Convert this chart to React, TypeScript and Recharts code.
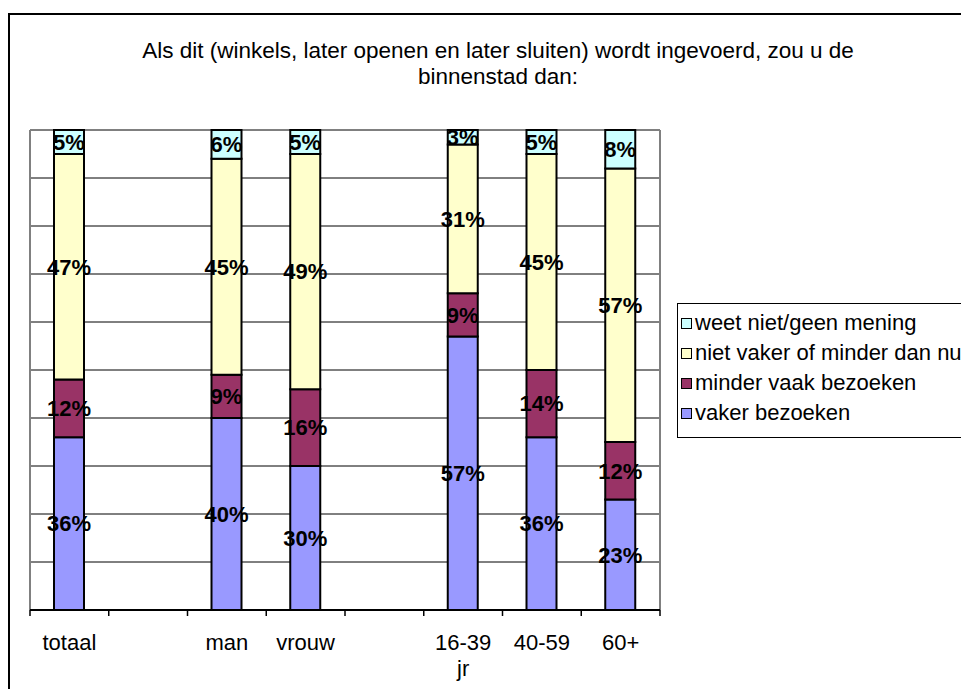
import {
  BarChart,
  Bar,
  XAxis,
  YAxis,
  CartesianGrid,
  Legend,
  LabelList,
} from "recharts";

const categories = ["totaal", "", "man", "vrouw", "", "16-39\njr", "40-59", "60+"];
const vaker = [36, null, 40, 30, null, 57, 36, 23];
const minder = [12, null, 9, 16, null, 9, 14, 12];
const nietVaker = [47, null, 45, 49, null, 31, 45, 57];
const weetNiet = [5, null, 6, 5, null, 3, 5, 8];

const legendOrder = [
  "weet niet/geen mening",
  "niet vaker of minder dan nu",
  "minder vaak bezoeken",
  "vaker bezoeken",
];

const yTicks = [0, 10, 20, 30, 40, 50, 60, 70, 80, 90, 100];

const FONT = "Arial, 'Liberation Sans', sans-serif";
const FRAME = { stroke: "#808080", strokeWidth: 2 };

const data = categories.map((name, i) => ({
  name,
  vaker: vaker[i],
  minder: minder[i],
  nietVaker: nietVaker[i],
  weetNiet: weetNiet[i],
}));

const NoTick = () => <g />;

// tick label + boundary tick marks (Excel puts ticks between categories)
const CategoryTick = (props: any) => {
  const { x, y, payload, index, visibleTicksCount } = props;
  const half = payload && typeof payload.offset === "number" ? payload.offset : 0;
  const lines = String(payload.value).split("\n");
  const isLast = index === (visibleTicksCount ?? 8) - 1;
  return (
    <g>
      <line x1={x - half} y1={y} x2={x - half} y2={y + 6} stroke="#000" strokeWidth={1.5} />
      {isLast && <line x1={x + half} y1={y} x2={x + half} y2={y + 6} stroke="#000" strokeWidth={1.5} />}
      <text x={x} y={y} textAnchor="middle" fontFamily={FONT} fontSize={22} fill="#000">
        {lines.map((l, i) => (
          <tspan key={i} x={x} dy={i === 0 ? 40 : 26}>
            {l}
          </tspan>
        ))}
      </text>
    </g>
  );
};

const LegendBox = (props: any) => {
  const items = [...(props.payload || [])].sort(
    (a: any, b: any) => legendOrder.indexOf(a.value) - legendOrder.indexOf(b.value)
  );
  return (
    <div
      style={{
        border: "1px solid #000",
        width: 289,
        height: 129,
        paddingTop: 4,
        background: "#fff",
        fontFamily: FONT,
        fontSize: 22,
        textAlign: "left",
      }}
    >
      {items.map((it: any) => (
        <div key={it.value} style={{ height: 30, display: "flex", alignItems: "center" }}>
          <span
            style={{
              display: "inline-block",
              width: 9,
              height: 9,
              border: "1.5px solid #000",
              background: it.color,
              marginLeft: 3,
              marginRight: 3,
            }}
          />
          <span style={{ whiteSpace: "nowrap" }}>{it.value}</span>
        </div>
      ))}
    </div>
  );
};

const labelStyle = { fontFamily: FONT, fontSize: 22, fontWeight: "bold" as const, fill: "#000" };
const pct = (v: any) => (v == null ? "" : `${v}%`);

export default function App() {
  return (
    <div style={{ position: "relative", width: 961, height: 681, overflow: "hidden", background: "#fff" }}>
      <div
        style={{
          position: "absolute",
          left: 0,
          top: 5,
          width: 1100,
          height: 1000,
          border: "2px solid #000",
        }}
      />
      <div
        style={{
          position: "absolute",
          left: 0,
          top: 30,
          width: 980,
          textAlign: "center",
          fontFamily: FONT,
          fontSize: 22.5,
          lineHeight: "26px",
          color: "#000",
        }}
      >
        Als dit (winkels, later openen en later sluiten) wordt ingevoerd, zou u de
        <br />
        binnenstad dan:
      </div>
      <div style={{ position: "absolute", left: 0, top: 0 }}>
        <BarChart
          width={961}
          height={681}
          data={data}
          margin={{ top: 122, left: 21, right: 308, bottom: 29 }}
          barCategoryGap={0}
        >
          <CartesianGrid vertical={false} stroke="#000" strokeWidth={1} strokeOpacity={1} />
          <YAxis domain={[0, 100]} ticks={yTicks} width={1} tick={<NoTick />} tickLine={false} axisLine={FRAME} />
          <YAxis yAxisId="right" orientation="right" domain={[0, 100]} ticks={yTicks} width={1} tick={<NoTick />} tickLine={false} axisLine={FRAME} />
          <XAxis xAxisId="top" orientation="top" dataKey="name" height={0} tick={false} tickLine={false} axisLine={FRAME} />
          <XAxis
            dataKey="name"
            height={50}
            axisLine={{ stroke: "#000", strokeWidth: 2 }}
            tickLine={false}
            tickSize={0}
            tickMargin={0}
            interval={0}
            tick={<CategoryTick />}
          />
          <Legend
            verticalAlign="middle"
            align="center"
            layout="vertical"
            content={<LegendBox />}
            wrapperStyle={{ position: "absolute", left: 669, top: 295, width: 291 }}
          />
          <Bar dataKey="vaker" name="vaker bezoeken" stackId="s" fill="#9999FF" stroke="#000" strokeWidth={2} barSize={30} isAnimationActive={false}>
            <LabelList dataKey="vaker" position="center" formatter={pct} style={labelStyle} />
          </Bar>
          <Bar dataKey="minder" name="minder vaak bezoeken" stackId="s" fill="#993366" stroke="#000" strokeWidth={2} barSize={30} isAnimationActive={false}>
            <LabelList dataKey="minder" position="center" formatter={pct} style={labelStyle} />
          </Bar>
          <Bar dataKey="nietVaker" name="niet vaker of minder dan nu" stackId="s" fill="#FFFFCC" stroke="#000" strokeWidth={2} barSize={30} isAnimationActive={false}>
            <LabelList dataKey="nietVaker" position="center" formatter={pct} style={labelStyle} />
          </Bar>
          <Bar dataKey="weetNiet" name="weet niet/geen mening" stackId="s" fill="#CCFFFF" stroke="#000" strokeWidth={2} barSize={30} isAnimationActive={false}>
            <LabelList dataKey="weetNiet" position="center" formatter={pct} style={labelStyle} />
          </Bar>
        </BarChart>
      </div>
    </div>
  );
}
